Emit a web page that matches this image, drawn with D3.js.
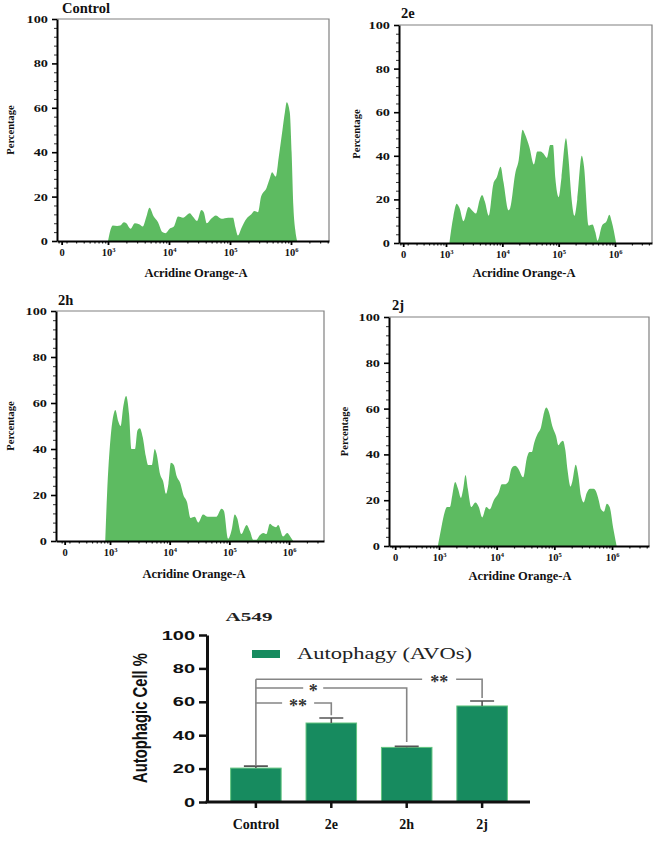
<!DOCTYPE html>
<html><head><meta charset="utf-8">
<script src="https://cdn.jsdelivr.net/npm/d3@7"></script>
<style>body{margin:0;background:#fff}svg{display:block}</style>
</head><body>
<svg id="c" width="661" height="848"></svg>
<script>
// ---------------- data ----------------
const panelTitles = ["Control", "2e", "2h", "2j"];
const xTickExponents = [3, 4, 5, 6];
const zeroExponent = 2.24;
const yTicksHist = [0, 20, 40, 60, 80, 100];
const xAxisTitle = "Acridine Orange-A";
const yAxisTitle = "Percentage";

// histogram outlines: x = log10(Acridine Orange-A), y = percentage
const controlLog = [3.00,3.04,3.08,3.15,3.20,3.26,3.30,3.37,3.44,3.51,3.57,3.63,3.68,3.75,3.82,3.89,3.94,4.01,4.08,4.15,4.23,4.34,4.39,4.46,4.53,4.57,4.62,4.69,4.77,4.86,4.97,5.05,5.09,5.13,5.19,5.27,5.35,5.40,5.46,5.51,5.60,5.65,5.69,5.75,5.80,5.86,5.90,5.93,5.98,6.01,6.04,6.07,6.10];
const controlPct = [0,5,7,6.8,7,8.5,8,5.5,8,7.5,6.5,11,15,11,8.5,4,3.5,5.5,6.5,11,10.5,12.5,11,9,14,13,8,10,11.5,10,10.5,10.5,6,2.5,6,10,12,13.5,13,20,24,28,31,29,38,50,58,62.5,58,40,15,5,0];

const e2Log = [3.06,3.13,3.19,3.24,3.31,3.40,3.46,3.53,3.60,3.64,3.69,3.76,3.84,3.90,3.97,4.02,4.11,4.14,4.23,4.29,4.36,4.40,4.48,4.56,4.62,4.68,4.73,4.79,4.85,4.90,4.94,5.00,5.05,5.13,5.17,5.23,5.28,5.33,5.41,5.45,5.53,5.60,5.65,5.69,5.77,5.85,5.90,5.94,6.02];
const e2Pct = [0,12,18,16,10,16.5,15,13.5,20,22,19,12.5,27,30,35,28,15,16,32,38,52,50,44,36,42,42,41,39,45,45,30,21,30,48,40,20,12.5,20,40,35,8,8.5,5,1,8,10,13,10,0];

const h2Log = [2.92,2.95,3.01,3.06,3.09,3.14,3.18,3.22,3.27,3.32,3.36,3.42,3.46,3.50,3.55,3.60,3.64,3.70,3.75,3.78,3.84,3.89,3.94,3.98,4.02,4.07,4.12,4.18,4.23,4.29,4.35,4.42,4.48,4.56,4.64,4.78,4.87,4.91,4.98,5.04,5.09,5.13,5.20,5.29,5.35,5.40,5.45,5.51,5.57,5.62,5.68,5.73,5.78,5.82,5.90,5.97,6.02,6.07];
const h2Pct = [0,20,45,55,57,52,50,58,63,55,40,40,48,49,45,37,33,33,40,38,29,26,20.5,25,34,33,28,25,20,17,10,10.5,8,11.5,10.5,10.5,14,13,1,5,11.5,10,3,7,4,0.5,0.5,2.5,3.5,3,7.5,6.5,6,7,2,3.5,2,0];

const j2Log = [2.98,3.04,3.10,3.14,3.19,3.23,3.28,3.33,3.38,3.42,3.46,3.50,3.56,3.63,3.69,3.75,3.82,3.88,3.95,4.03,4.09,4.14,4.20,4.26,4.32,4.37,4.46,4.52,4.57,4.61,4.65,4.71,4.77,4.81,4.86,4.90,4.97,5.03,5.07,5.10,5.15,5.19,5.23,5.28,5.31,5.37,5.42,5.46,5.51,5.56,5.62,5.68,5.72,5.77,5.81,5.86,5.91,5.96,6.02,6.08];
const j2Pct = [0,8,15,17,17,22,28,25,21,25,31,25,17,19,17,12.5,17,16,20,23,27,27,28,34,35,34,30,38,41,41,45,49,52,57,60.5,59,52,48,44,45,46,42,33,26,28,35.5,30,22,19,23,25,25,24,20,16,15,18.5,17,8,0];

// bar chart
const barTitle = "A549";
const barGroups = ["Control", "2e", "2h", "2j"];
const barValues = [20.3, 47.3, 32.7, 57.5];
const barErrors = [1.2, 3.0, 0.6, 3.0];
const barYTicks = [0, 20, 40, 60, 80, 100];
const barYTitle = "Autophagic Cell %";
const legendLabel = "Autophagy (AVOs)";
const sigFrom = ["Control", "Control", "Control"];
const sigTo = ["2e", "2h", "2j"];
const sigLabels = ["**", "*", "**"];
const sigLevel = [59.3, 68.3, 73.5];
const sigDropTo = [52, 36, 62.3];
const sigFromDrop = 22.2;

// ---------------- layout / style ----------------
const SERIF = "'Liberation Serif','Times New Roman',serif";
const SANS = "'Liberation Sans',Arial,sans-serif";
const GREEN = "#5dbb61";
const BAR = "#178b5f";
const layouts = [
  {x0:57, p3:108, p6:291, right:329, top:19, bottom:241, tx:62, ty:13, lx:196, ly:277, px:14},
  {x0:399, p3:446, p6:615, right:652, top:25, bottom:243, tx:401, ty:18, lx:524, ly:277, px:360},
  {x0:56, p3:110, p6:289, right:324, top:311, bottom:541, tx:58, ty:305, lx:194, ly:578, px:14},
  {x0:389, p3:439, p6:612, right:649, top:317, bottom:546, tx:392, ty:310, lx:520, ly:580, px:348}
];
const histData = [[controlLog, controlPct],[e2Log, e2Pct],[h2Log, h2Pct],[j2Log, j2Pct]];

const svg = d3.select("#c");
svg.append("rect").attr("width",661).attr("height",848).attr("fill","#fff");

function histogram(L, logs, pcts, title) {
  const g = svg.append("g");
  const dec = (L.p6 - L.p3) / 3;
  const x = d3.scaleLinear().domain([3 - (L.p3 - L.x0)/dec, 6 + (L.right - L.p6)/dec]).range([L.x0, L.right]);
  const y = d3.scaleLinear().domain([0, 100]).range([L.bottom, L.top]);
  const pts = logs.map((v, i) => [v, pcts[i]]);
  g.append("path").datum(pts).attr("fill", GREEN)
    .attr("d", d3.area().x(d => x(d[0])).y0(y(0)).y1(d => y(d[1])).curve(d3.curveMonotoneX));
  // frame
  g.append("path").attr("d", `M${L.x0},${L.top}H${L.right}V${L.bottom}`)
    .attr("fill","none").attr("stroke","#808080").attr("stroke-width",1.2);
  // y minor
  const minorY = d3.range(0, 101, 4).filter(v => v % 20 !== 0);
  g.append("g").attr("transform",`translate(${L.x0},0)`)
    .call(d3.axisLeft(y).tickValues(minorY).tickSize(3).tickFormat(""))
    .call(s => { s.select(".domain").remove(); s.selectAll("line").attr("stroke","#333").attr("stroke-width",1); });
  const ya = g.append("g").attr("transform",`translate(${L.x0},0)`)
    .call(d3.axisLeft(y).tickValues(yTicksHist).tickSize(5).tickSizeOuter(0));
  ya.select(".domain").attr("stroke","#000").attr("stroke-width",2);
  ya.selectAll(".tick line").attr("stroke","#000").attr("stroke-width",1.6);
  ya.selectAll(".tick text").attr("font-family",SERIF).attr("font-weight","bold").attr("font-size",11)
    .attr("fill","#111").attr("x",-9/1.3).attr("transform","scale(1.3,1)");
  // x minor
  const [d0, d1] = x.domain();
  const minorX = [];
  for (let n = 2; n <= 6; n++) for (let k = 2; k <= 9; k++) {
    const v = n + Math.log10(k);
    if (v > zeroExponent + 0.12 && v < d1) minorX.push(v);
  }
  minorX.push(zeroExponent - 0.05, zeroExponent + 0.08);
  g.append("g").attr("transform",`translate(0,${L.bottom})`)
    .call(d3.axisBottom(x).tickValues(minorX).tickSize(2.5).tickFormat(""))
    .call(s => { s.select(".domain").remove(); s.selectAll("line").attr("stroke","#222").attr("stroke-width",1.2); });
  const xa = g.append("g").attr("transform",`translate(0,${L.bottom})`)
    .call(d3.axisBottom(x).tickValues([zeroExponent, ...xTickExponents]).tickSize(4).tickSizeOuter(0).tickFormat(""));
  xa.select(".domain").attr("stroke","#000").attr("stroke-width",2);
  xa.selectAll(".tick line").attr("stroke","#000").attr("stroke-width",1.8);
  xa.selectAll(".tick").append("text").attr("y",15).attr("text-anchor","middle")
    .attr("font-family",SERIF).attr("font-weight","bold").attr("font-size",10.5).attr("fill","#111")
    .each(function(d) {
      const t = d3.select(this);
      if (d === zeroExponent) { t.text("0"); return; }
      t.text("10").append("tspan").attr("dy",-4).attr("font-size",6.5).text(d);
    });
  // titles
  g.append("text").attr("x",L.tx).attr("y",L.ty).attr("font-family",SERIF).attr("font-weight","bold")
    .attr("font-size",14.5).attr("fill","#111").text(title);
  g.append("text").attr("x",L.lx).attr("y",L.ly).attr("text-anchor","middle").attr("font-family",SERIF)
    .attr("font-weight","bold").attr("font-size",12.5).attr("fill","#111").text(xAxisTitle);
  g.append("text").attr("transform",`translate(${L.px},${(L.top+L.bottom)/2}) rotate(-90)`)
    .attr("text-anchor","middle").attr("font-family",SERIF).attr("font-weight","bold")
    .attr("font-size",10.5).attr("fill","#111").text(yAxisTitle);
}
layouts.forEach((L, i) => histogram(L, histData[i][0], histData[i][1], panelTitles[i]));

// ---------------- bar chart ----------------
const bg = svg.append("g");
const xb = d3.scaleBand().domain(barGroups).range([208, 530]).paddingInner(0.33).paddingOuter(0.3);
const yb = d3.scaleLinear().domain([0, 100]).range([802, 635]);
const cx = g => xb(g) + xb.bandwidth()/2;

bg.selectAll("rect.bar").data(barGroups).join("rect").attr("class","bar")
  .attr("x", d => xb(d)).attr("width", xb.bandwidth())
  .attr("y", (d,i) => yb(barValues[i])).attr("height", (d,i) => yb(0) - yb(barValues[i]))
  .attr("fill", BAR).attr("stroke","#62c47f").attr("stroke-width",1);
// error bars
bg.selectAll("path.err").data(barGroups).join("path").attr("class","err")
  .attr("d", (d,i) => `M${cx(d)},${yb(barValues[i])}V${yb(barValues[i]+barErrors[i])}M${cx(d)-12},${yb(barValues[i]+barErrors[i])}H${cx(d)+12}`)
  .attr("stroke","#555").attr("stroke-width",1.6).attr("fill","none");

// axes
const yax = bg.append("g").attr("transform","translate(207,0)")
  .call(d3.axisLeft(yb).tickValues(barYTicks).tickSize(8).tickSizeOuter(0));
yax.select(".domain").attr("stroke","#111").attr("stroke-width",3);
yax.selectAll(".tick line").attr("stroke","#111").attr("stroke-width",2.5);
yax.selectAll(".tick text").attr("font-family",SANS).attr("font-weight","bold").attr("font-size",12.5)
  .attr("fill","#111").attr("x",-12/1.6).attr("transform","scale(1.6,1)");
const xax = bg.append("g").attr("transform","translate(0,802)")
  .call(d3.axisBottom(xb).tickSize(6).tickSizeOuter(0));
xax.select(".domain").attr("d","M205.5,0H530").attr("stroke","#111").attr("stroke-width",3);
xax.selectAll(".tick line").attr("stroke","#111").attr("stroke-width",2.5);
xax.selectAll(".tick text").attr("y",17).attr("font-family",SERIF).attr("font-weight","bold")
  .attr("font-size",14).attr("fill","#111");

// title, y label, legend
bg.append("text").attr("x",249).attr("y",621).attr("text-anchor","middle").attr("font-family",SERIF)
  .attr("font-weight","bold").attr("font-size",12).attr("fill","#222")
  .attr("textLength",47).attr("lengthAdjust","spacingAndGlyphs").text(barTitle);
bg.append("text").attr("transform","translate(147,718) rotate(-90)").attr("text-anchor","middle")
  .attr("font-family","'Liberation Sans Narrow','Liberation Sans',Arial,sans-serif")
  .attr("font-size",20).attr("font-weight","bold").attr("fill","#111")
  .attr("textLength",130).attr("lengthAdjust","spacingAndGlyphs").text(barYTitle);
bg.append("rect").attr("x",252).attr("y",650).attr("width",28).attr("height",8).attr("fill",BAR);
bg.append("text").attr("x",297).attr("y",659).attr("font-family",SERIF).attr("font-size",16)
  .attr("fill","#222").attr("textLength",175).attr("lengthAdjust","spacingAndGlyphs").text(legendLabel);

// significance brackets
const sigLabelFrac = [0.56, 0.38, 0.81];
const sigGapHalf = [16, 10, 17];
const LINE = "#858585";
bg.append("path")
  .attr("d", `M${cx(sigFrom[0])},${yb(d3.max(sigLevel))}V${yb(sigFromDrop)}`)
  .attr("stroke",LINE).attr("stroke-width",1.6).attr("fill","none");
sigTo.forEach((t, i) => {
  const xa = cx(sigFrom[i]), xe = cx(t), yy = yb(sigLevel[i]);
  const lc = xa + (xe - xa) * sigLabelFrac[i];
  bg.append("path")
    .attr("d", `M${xa},${yy}H${lc - sigGapHalf[i]}M${lc + sigGapHalf[i]},${yy}H${xe}V${yb(sigDropTo[i])}`)
    .attr("stroke",LINE).attr("stroke-width",1.6).attr("fill","none");
  bg.append("text").attr("x",lc).attr("y",yy + 9).attr("text-anchor","middle")
    .attr("font-family",SERIF).attr("font-weight","bold").attr("font-size",18).attr("fill","#333")
    .text(sigLabels[i]);
});
</script>
</body></html>
